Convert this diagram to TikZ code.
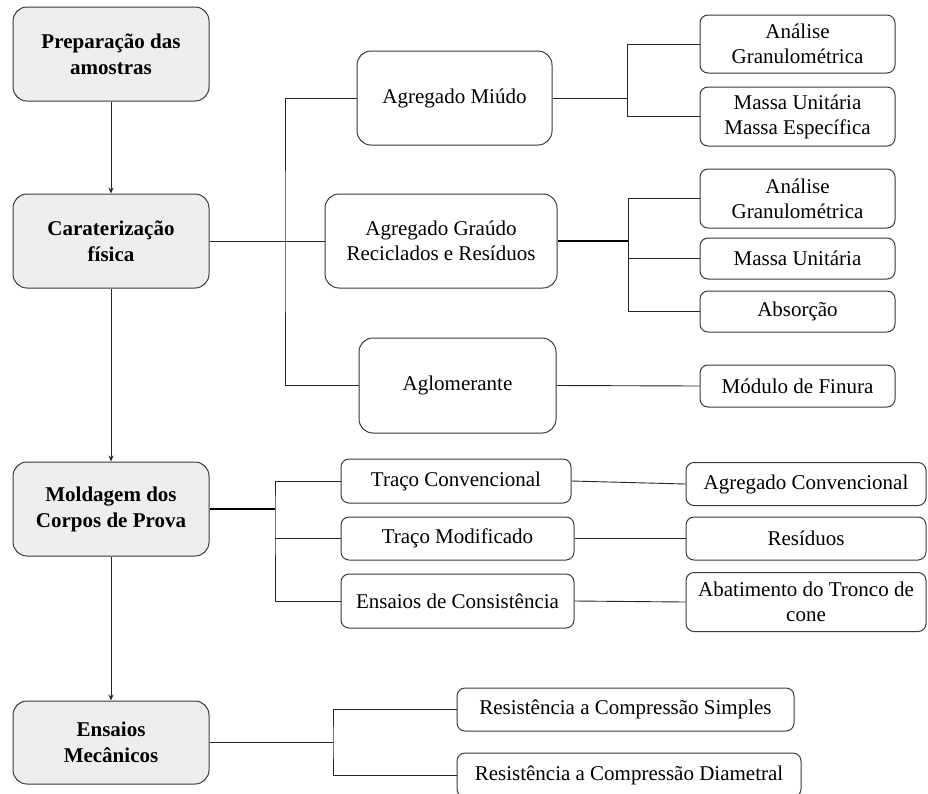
\documentclass[tikz,border=0pt]{standalone}
\usepackage{fontspec}
\setmainfont{Liberation Serif}
\usetikzlibrary{arrows.meta}
\definecolor{boxgray}{HTML}{EEEEEE}
\definecolor{edgegray}{HTML}{3A3A3A}
\tikzset{
  base/.style={draw=edgegray, line width=1pt, align=center, inner sep=0pt,
    font=\fontsize{21}{25}\selectfont},
  mainbox/.style={base, fill=boxgray, rounded corners=14pt, minimum width=196pt,
    font=\fontsize{21}{26}\selectfont\bfseries},
  midbox/.style={base, fill=white, rounded corners=14pt},
  smallbox/.style={base, fill=white, rounded corners=8pt},
  conn/.style={draw=black!85, line width=0.9pt},
  thick conn/.style={draw=black, line width=1.6pt},
  arrowconn/.style={draw=black!85, line width=0.9pt, -{Stealth[length=6pt,width=5pt]}}
}
\begin{document}
\begin{tikzpicture}[x=1pt,y=-1pt]
\clip (0,0) rectangle (928,793);
\fill[white] (0,0) rectangle (928,793);

% main column
\node[mainbox, minimum height=94pt] (prep) at (111,54) {Preparação das\\amostras};
\node[mainbox, minimum height=94pt] (carat) at (111,241) {Caraterização\\física};
\node[mainbox, minimum height=94pt] (mold) at (111,509) {Moldagem dos\\Corpos de Prova};
\node[mainbox, minimum height=83pt] (mec) at (111,742.5) {Ensaios\\Mecânicos};

% middle column (top)
\node[midbox, minimum width=195pt, minimum height=94pt] (miudo) at (454.5,98) {Agregado Miúdo};
\node[midbox, minimum width=232pt, minimum height=94pt] (graudo) at (441,241) {Agregado Graúdo\\Reciclados e Resíduos};
\node[midbox, minimum width=197pt, minimum height=95pt] (aglo) at (457.5,385.5) {Aglomerante};

% right column (top)
\node[smallbox, minimum width=195pt, minimum height=58pt] (ag1) at (797.5,44) {Análise\\Granulométrica};
\node[smallbox, minimum width=195pt, minimum height=59pt] (mu1) at (797.5,116.5) {Massa Unitária\\Massa Específica};
\node[smallbox, minimum width=195pt, minimum height=59pt] (ag2) at (797.5,198.5) {Análise\\Granulométrica};
\node[smallbox, minimum width=195pt, minimum height=41pt] (mu2) at (797.5,258.5) {Massa Unitária};
\node[smallbox, minimum width=195pt, minimum height=41pt] (abs) at (797.5,311.5) {Absorção};
\node[smallbox, minimum width=195pt, minimum height=42pt] (mod) at (797.5,386) {Módulo de Finura};

% moldagem branch
\node[smallbox, minimum width=230pt, minimum height=44pt] (tc) at (456,481) {Traço Convencional};
\node[smallbox, minimum width=233pt, minimum height=43pt] (tm) at (457.5,538.5) {Traço Modificado};
\node[smallbox, minimum width=233pt, minimum height=54pt] (ec) at (457.5,601) {Ensaios de Consistência};

\node[smallbox, minimum width=240pt, minimum height=43pt] (agc) at (806,484) {Agregado Convencional};
\node[smallbox, minimum width=240pt, minimum height=43pt] (res) at (806,538.5) {Resíduos};
\node[smallbox, minimum width=240pt, minimum height=59pt] (abt) at (806,602) {Abatimento do Tronco de\\cone};

% ensaios mecanicos branch
\node[smallbox, minimum width=337pt, minimum height=43pt] (rs) at (625.5,709.5) {Resistência a Compressão Simples};
\node[smallbox, minimum width=344pt, minimum height=44pt] (rd) at (629,775) {Resistência a Compressão Diametral};

% junction coordinates
\coordinate (j0) at (285,241);
\coordinate (j1) at (627,98);
\coordinate (j2) at (628,241);
\coordinate (j3) at (275,509);
\coordinate (j4) at (333,742.5);

% vertical arrows
\draw[arrowconn] (prep.south) -- (carat.north);
\draw[arrowconn] (carat.south) -- (mold.north);
\draw[arrowconn] (mold.south) -- (mec.north);

% caraterização connectors
\draw[conn] (carat.east) -- (graudo.west);
\draw[conn] (miudo.west) -| (j0) |- (aglo.west);

\draw[conn] (miudo.east) -- (j1);
\draw[conn] (ag1.west) -| (j1) |- (mu1.west);

\draw[thick conn] (graudo.east) -- (j2);
\draw[conn] (ag2.west) -| (j2) |- (abs.west);
\draw[conn] (mu2.west) -- (mu2.west -| j2);

\draw[conn] (aglo.east) -- (mod.west);

% moldagem connectors
\draw[thick conn] (mold.east) -- (j3);
\draw[conn] (tc.west) -| (j3) |- (ec.west);
\draw[conn] (tm.west) -- (tm.west -| j3);
\draw[conn] (tc.east) -- (agc.west);
\draw[conn] (tm.east) -- (res.west);
\draw[conn] (ec.east) -- (abt.west);

% ensaios mecanicos connectors
\draw[conn] (mec.east) -- (j4);
\draw[conn] (rs.west) -| (j4) |- (rd.west);
\end{tikzpicture}
\end{document}
